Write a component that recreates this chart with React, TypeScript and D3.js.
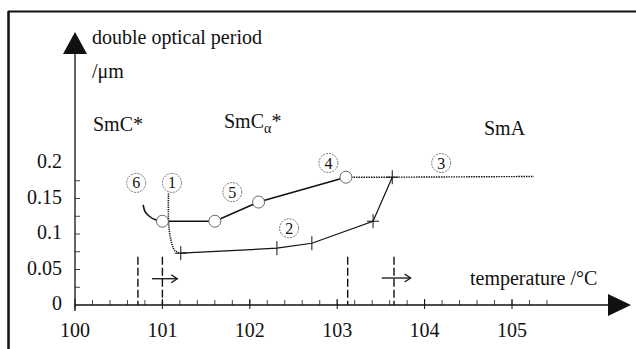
import React from 'react';
import * as d3 from 'd3';

const W = 636;
const H = 349;

// axis ticks
const xTicks = [100, 101, 102, 103, 104, 105];
const yTicks = [0, 0.05, 0.1, 0.15, 0.2];
const yTickLabels = ['0', '0.05', '0.1', '0.15', '0.2'];

// measured series (temperature, period)
const circleSeries: [number, number][] = [[101.0, 0.118], [101.6, 0.118], [102.1, 0.145], [103.1, 0.18]];
const curve6: [number, number][] = [[100.78, 0.141], [100.8, 0.132], [100.85, 0.125], [100.92, 0.12], [101.0, 0.118]];
const curve1: [number, number][] = [[101.07, 0.157], [101.07, 0.12], [101.09, 0.096], [101.14, 0.077], [101.2, 0.073]];
const crossSeries: [number, number][] = [[101.21, 0.073], [102.31, 0.08], [102.71, 0.087], [103.41, 0.118], [103.63, 0.18]];
const smaSeries: [number, number][] = [[103.1, 0.18], [103.63, 0.18], [105.25, 0.181]];

// phase transitions (dashed) and heating arrows
const transitions = [100.72, 101.0, 103.12, 103.65];
const transitionTop = 0.068;
const arrows = [[100.88, 101.17, 0.037], [103.51, 103.84, 0.038]];

// circled curve numbers
const curveLabels: [string, number, number][] = [
  ['1', 101.11, 0.172], ['2', 102.45, 0.108], ['3', 104.19, 0.2],
  ['4', 102.9, 0.2], ['5', 101.8, 0.159], ['6', 100.7, 0.172],
];

const TXT = { fontFamily: "'Liberation Serif'" };
const INK = '#111';

export default function App() {
  const x = d3.scaleLinear().domain([100, 105]).range([75, 512]);
  const y = d3.scaleLinear().domain([0, 0.2]).range([305, 163]);
  const x0 = x(100);
  const y0 = y(0);

  const line = d3.line<[number, number]>().x(d => x(d[0])).y(d => y(d[1]));
  const smooth = d3.line<[number, number]>().x(d => x(d[0])).y(d => y(d[1])).curve(d3.curveCatmullRom);

  const minorX = d3.range(100.2, 105.5, 0.2);
  const minorY = d3.range(0.025, 0.2, 0.025);

  return (
    <svg width={W} height={H} style={{ position: 'absolute', left: 0, top: 0, background: '#fff' }}>
      <rect x={0} y={0} width={W} height={H} fill="#fff" />
      {/* frame */}
      <line x1={8.5} y1={11} x2={8.5} y2={H} stroke={INK} strokeWidth={2.5} />
      <line x1={8} y1={11.5} x2={W} y2={11.5} stroke={INK} strokeWidth={2} />

      {/* y axis */}
      <line x1={x0} y1={50} x2={x0} y2={y0 + 6} stroke={INK} strokeWidth={1.3} />
      <path d={`M${x0},32 L${x0 - 12},54 L${x0 + 12},54 Z`} fill={INK} />
      {minorY.map(v => (
        <line key={v} x1={x0} x2={x0 + 5} y1={y(v)} y2={y(v)} stroke={INK} strokeWidth={0.8} />
      ))}
      {yTicks.map((v, i) => (
        <text key={v} x={62} y={y(v) + 5} textAnchor="end" fontSize={20} fill={INK} style={TXT}>{yTickLabels[i]}</text>
      ))}

      {/* x axis */}
      <line x1={x0} y1={y0} x2={612} y2={y0} stroke={INK} strokeWidth={1.6} />
      <path d={`M631,${y0} L608,${y0 - 11} L608,${y0 + 11} Z`} fill={INK} />
      {minorX.map(v => (
        <line key={v} x1={x(v)} x2={x(v)} y1={y0} y2={y0 - 5} stroke={INK} strokeWidth={0.8} />
      ))}
      {xTicks.map(v => (
        <g key={v}>
          <line x1={x(v)} x2={x(v)} y1={y0 - 6} y2={y0 + 4} stroke={INK} strokeWidth={1} />
          <text x={x(v)} y={y0 + 32} textAnchor="middle" fontSize={20} fill={INK} style={TXT}>{v}</text>
        </g>
      ))}

      {/* axis titles */}
      <text x={92} y={44} fontSize={20} fill={INK} style={TXT}>double optical period</text>
      <text x={92} y={78} fontSize={20} fill={INK} style={TXT}>/μm</text>
      <text x={470} y={285} fontSize={20} fill={INK} style={TXT}>temperature /°C</text>

      {/* phase names */}
      <text x={93} y={131} fontSize={20} fill={INK} style={TXT}>SmC*</text>
      <text x={224} y={128} fontSize={20} fill={INK} style={TXT}>SmC<tspan fontSize={14} dy={5}>α</tspan><tspan dy={-5}>*</tspan></text>
      <text x={484} y={135} fontSize={20} fill={INK} style={TXT}>SmA</text>

      {/* transitions */}
      {transitions.map(t => (
        <line key={t} x1={x(t)} x2={x(t)} y1={y(transitionTop)} y2={y0}
          stroke={INK} strokeWidth={1.4} strokeDasharray="8,3" />
      ))}
      {arrows.map(([a, b, v]) => (
        <g key={a} stroke={INK} strokeWidth={1.3} fill="none">
          <line x1={x(a)} x2={x(b)} y1={y(v)} y2={y(v)} />
          <path d={`M${x(b) - 6},${y(v) - 4} L${x(b)},${y(v)} L${x(b) - 6},${y(v) + 4}`} />
        </g>
      ))}

      {/* circled numbers */}
      {curveLabels.map(([s, t, v]) => (
        <g key={s}>
          <circle cx={x(t)} cy={y(v)} r={9.5} fill="#fff" stroke="#555" strokeWidth={0.8} strokeDasharray="2,1" />
          <text x={x(t)} y={y(v) + 5.5} textAnchor="middle" fontSize={16} fill={INK} style={TXT}>{s}</text>
        </g>
      ))}

      {/* curve 6 and 1 */}
      <path d={smooth(curve6) ?? ''} fill="none" stroke={INK} strokeWidth={1.6} />
      <path d={smooth(curve1) ?? ''} fill="none" stroke={INK} strokeWidth={1.6} strokeDasharray="1.2,1" />

      {/* SmA dotted branch */}
      <path d={line(smaSeries) ?? ''} fill="none" stroke={INK} strokeWidth={1.4} strokeDasharray="1.5,1" />

      {/* cross series */}
      <path d={line(crossSeries) ?? ''} fill="none" stroke={INK} strokeWidth={1.2} />
      {crossSeries.map(([t, v], i) => (
        <g key={t} stroke={INK} strokeWidth={1}>
          <line x1={x(t)} x2={x(t)} y1={y(v) - 7} y2={y(v) + 7} />
          {(i === 0 || i >= 3) && <line x1={x(t) - 6} x2={x(t) + 6} y1={y(v)} y2={y(v)} />}
        </g>
      ))}

      {/* circle series */}
      <path d={line(circleSeries) ?? ''} fill="none" stroke={INK} strokeWidth={1.6} />
      {circleSeries.map(([t, v]) => (
        <circle key={t} cx={x(t)} cy={y(v)} r={6} fill="#fff" stroke="#666" strokeWidth={1} />
      ))}
    </svg>
  );
}
